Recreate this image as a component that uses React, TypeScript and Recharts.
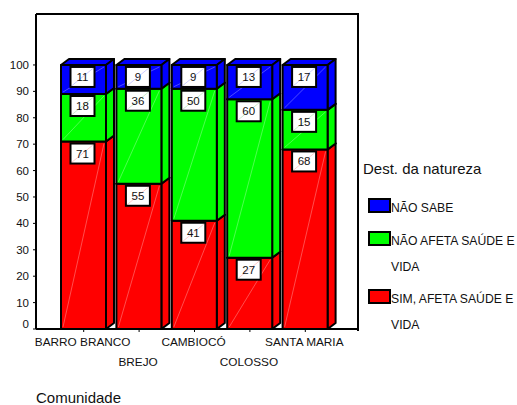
import { BarChart, Bar, XAxis, YAxis, LabelList, Legend } from 'recharts';

const categories = ['BARRO BRANCO', 'BREJO', 'CAMBIOCÓ', 'COLOSSO', 'SANTA MARIA'];
const simValues = [71, 55, 41, 27, 68];
const naoAfetaValues = [18, 36, 50, 60, 15];
const naoSabeValues = [11, 9, 9, 13, 17];
const yTicks = [0, 10, 20, 30, 40, 50, 60, 70, 80, 90, 100];

const data = categories.map((name, i) => ({
  name,
  sim: simValues[i],
  naoAfeta: naoAfetaValues[i],
  naoSabe: naoSabeValues[i],
}));

const FONT = '"Liberation Sans", Arial, sans-serif';
const DEPTH_X = 8;
const DEPTH_Y = 6;

// caixa 3D: frente, lado e topo
const Box3D = ({ x, y, width, height, fill }: any) => {
  const r = x + width;
  const b = y + height;
  const side = `${r},${y} ${r + DEPTH_X},${y - DEPTH_Y} ${r + DEPTH_X},${b - DEPTH_Y} ${r},${b}`;
  const top = `${x},${y} ${x + DEPTH_X},${y - DEPTH_Y} ${r + DEPTH_X},${y - DEPTH_Y} ${r},${y}`;
  return (
    <g stroke="#000" strokeWidth={2} strokeLinejoin="round">
      <polygon points={top} fill={fill} />
      <polygon points={side} fill={fill} />
      <rect x={x} y={y} width={width} height={height} fill={fill} />
      <line x1={x + 2} y1={b - 2} x2={r - 2} y2={y + 2} stroke="#fff" strokeOpacity={0.3} strokeWidth={1} />
    </g>
  );
};

const BoxLabel = ({ x, y, width, value, tint }: any) => {
  const cx = x + width / 2 - 1;
  return (
    <g>
      <rect x={cx - 12} y={y + 2} width={24} height={20} fill="#fff" stroke="#000" strokeWidth={2} />
      <line x1={cx - 11} y1={y + 21} x2={cx + 11} y2={y + 3} stroke={tint} strokeOpacity={0.2} strokeWidth={1} />
      <text x={cx} y={y + 16} textAnchor="middle" fontSize={11.5} fontFamily={FONT} fill="#111">
        {value}
      </text>
    </g>
  );
};

const CategoryTick = ({ x, y, payload, index }: any) => (
  <text x={x - 1} y={y + (index % 2 === 0 ? 12 : 32)} textAnchor="middle" fontSize={11.8} fontFamily={FONT} fill="#111">
    {payload.value}
  </text>
);

const ValueTick = ({ x, y, payload }: any) => (
  <text x={x - 2} y={y + (payload.value === 0 ? -1 : 4)} textAnchor="end" fontSize={11.5} fontFamily={FONT} fill="#111">
    {payload.value}
  </text>
);

const renderLegend = ({ payload }: any) => (
  <div style={{ fontFamily: FONT, color: '#111', width: 154 }}>
    <div style={{ fontSize: 15, lineHeight: '18px', marginBottom: 17 }}>Dest. da natureza</div>
    {[...(payload || [])].reverse().map((item: any) => (
      <div key={item.value} style={{ position: 'relative', paddingLeft: 28, fontSize: 12.2, lineHeight: '26px', marginBottom: 6.5, width: 126 }}>
        <span
          style={{
            position: 'absolute',
            left: 5,
            top: 3,
            width: 19,
            height: 11,
            background: item.color,
            border: '2px solid #000',
          }}
        />
        {item.value}
      </div>
    ))}
  </div>
);

export default function App() {
  return (
    <div style={{ position: 'absolute', left: 0, top: 0, width: 517, height: 405 }}>
      {/* moldura superior e direita do gráfico */}
      <div
        style={{
          position: 'absolute',
          left: 36,
          top: 13,
          width: 321,
          height: 316,
          borderTop: '2px solid #000',
          borderRight: '2px solid #000',
        }}
      />
      <BarChart width={517} height={405} data={data} margin={{ top: 14, right: 159, bottom: 0, left: 0 }}>
        <XAxis
          dataKey="name"
          interval={0}
          height={76}
          padding={{ left: 20, right: 25 }}
          axisLine={{ stroke: '#000', strokeWidth: 2 }}
          tickLine={{ stroke: '#000' }}
          tickSize={3}
          tick={<CategoryTick />}
        />
        <YAxis
          width={36}
          domain={[0, 119.3]}
          ticks={yTicks}
          interval={0}
          axisLine={{ stroke: '#000', strokeWidth: 2 }}
          tickLine={{ stroke: '#000' }}
          tickSize={3}
          tick={<ValueTick />}
        />
        <Legend
          layout="vertical"
          align="center"
          verticalAlign="middle"
          itemSorter={null}
          content={renderLegend}
          wrapperStyle={{ position: 'absolute', left: 363, top: 160, width: 154, bottom: 'auto', right: 'auto' }}
        />
        <Bar dataKey="sim" name="SIM, AFETA SAÚDE E VIDA" stackId="a" fill="#ff0000" barSize={45} shape={<Box3D />} isAnimationActive={false}>
          <LabelList dataKey="sim" content={<BoxLabel tint="#ff0000" />} />
        </Bar>
        <Bar dataKey="naoAfeta" name="NÃO AFETA SAÚDE E VIDA" stackId="a" fill="#00ff00" barSize={45} shape={<Box3D />} isAnimationActive={false}>
          <LabelList dataKey="naoAfeta" content={<BoxLabel tint="#00aa00" />} />
        </Bar>
        <Bar dataKey="naoSabe" name="NÃO SABE" stackId="a" fill="#0000ff" barSize={45} shape={<Box3D />} isAnimationActive={false}>
          <LabelList dataKey="naoSabe" content={<BoxLabel tint="#0000ff" />} />
        </Bar>
      </BarChart>
      <div style={{ position: 'absolute', left: 36, top: 389, fontFamily: FONT, fontSize: 15, lineHeight: '18px', color: '#111' }}>Comunidade</div>
    </div>
  );
}
